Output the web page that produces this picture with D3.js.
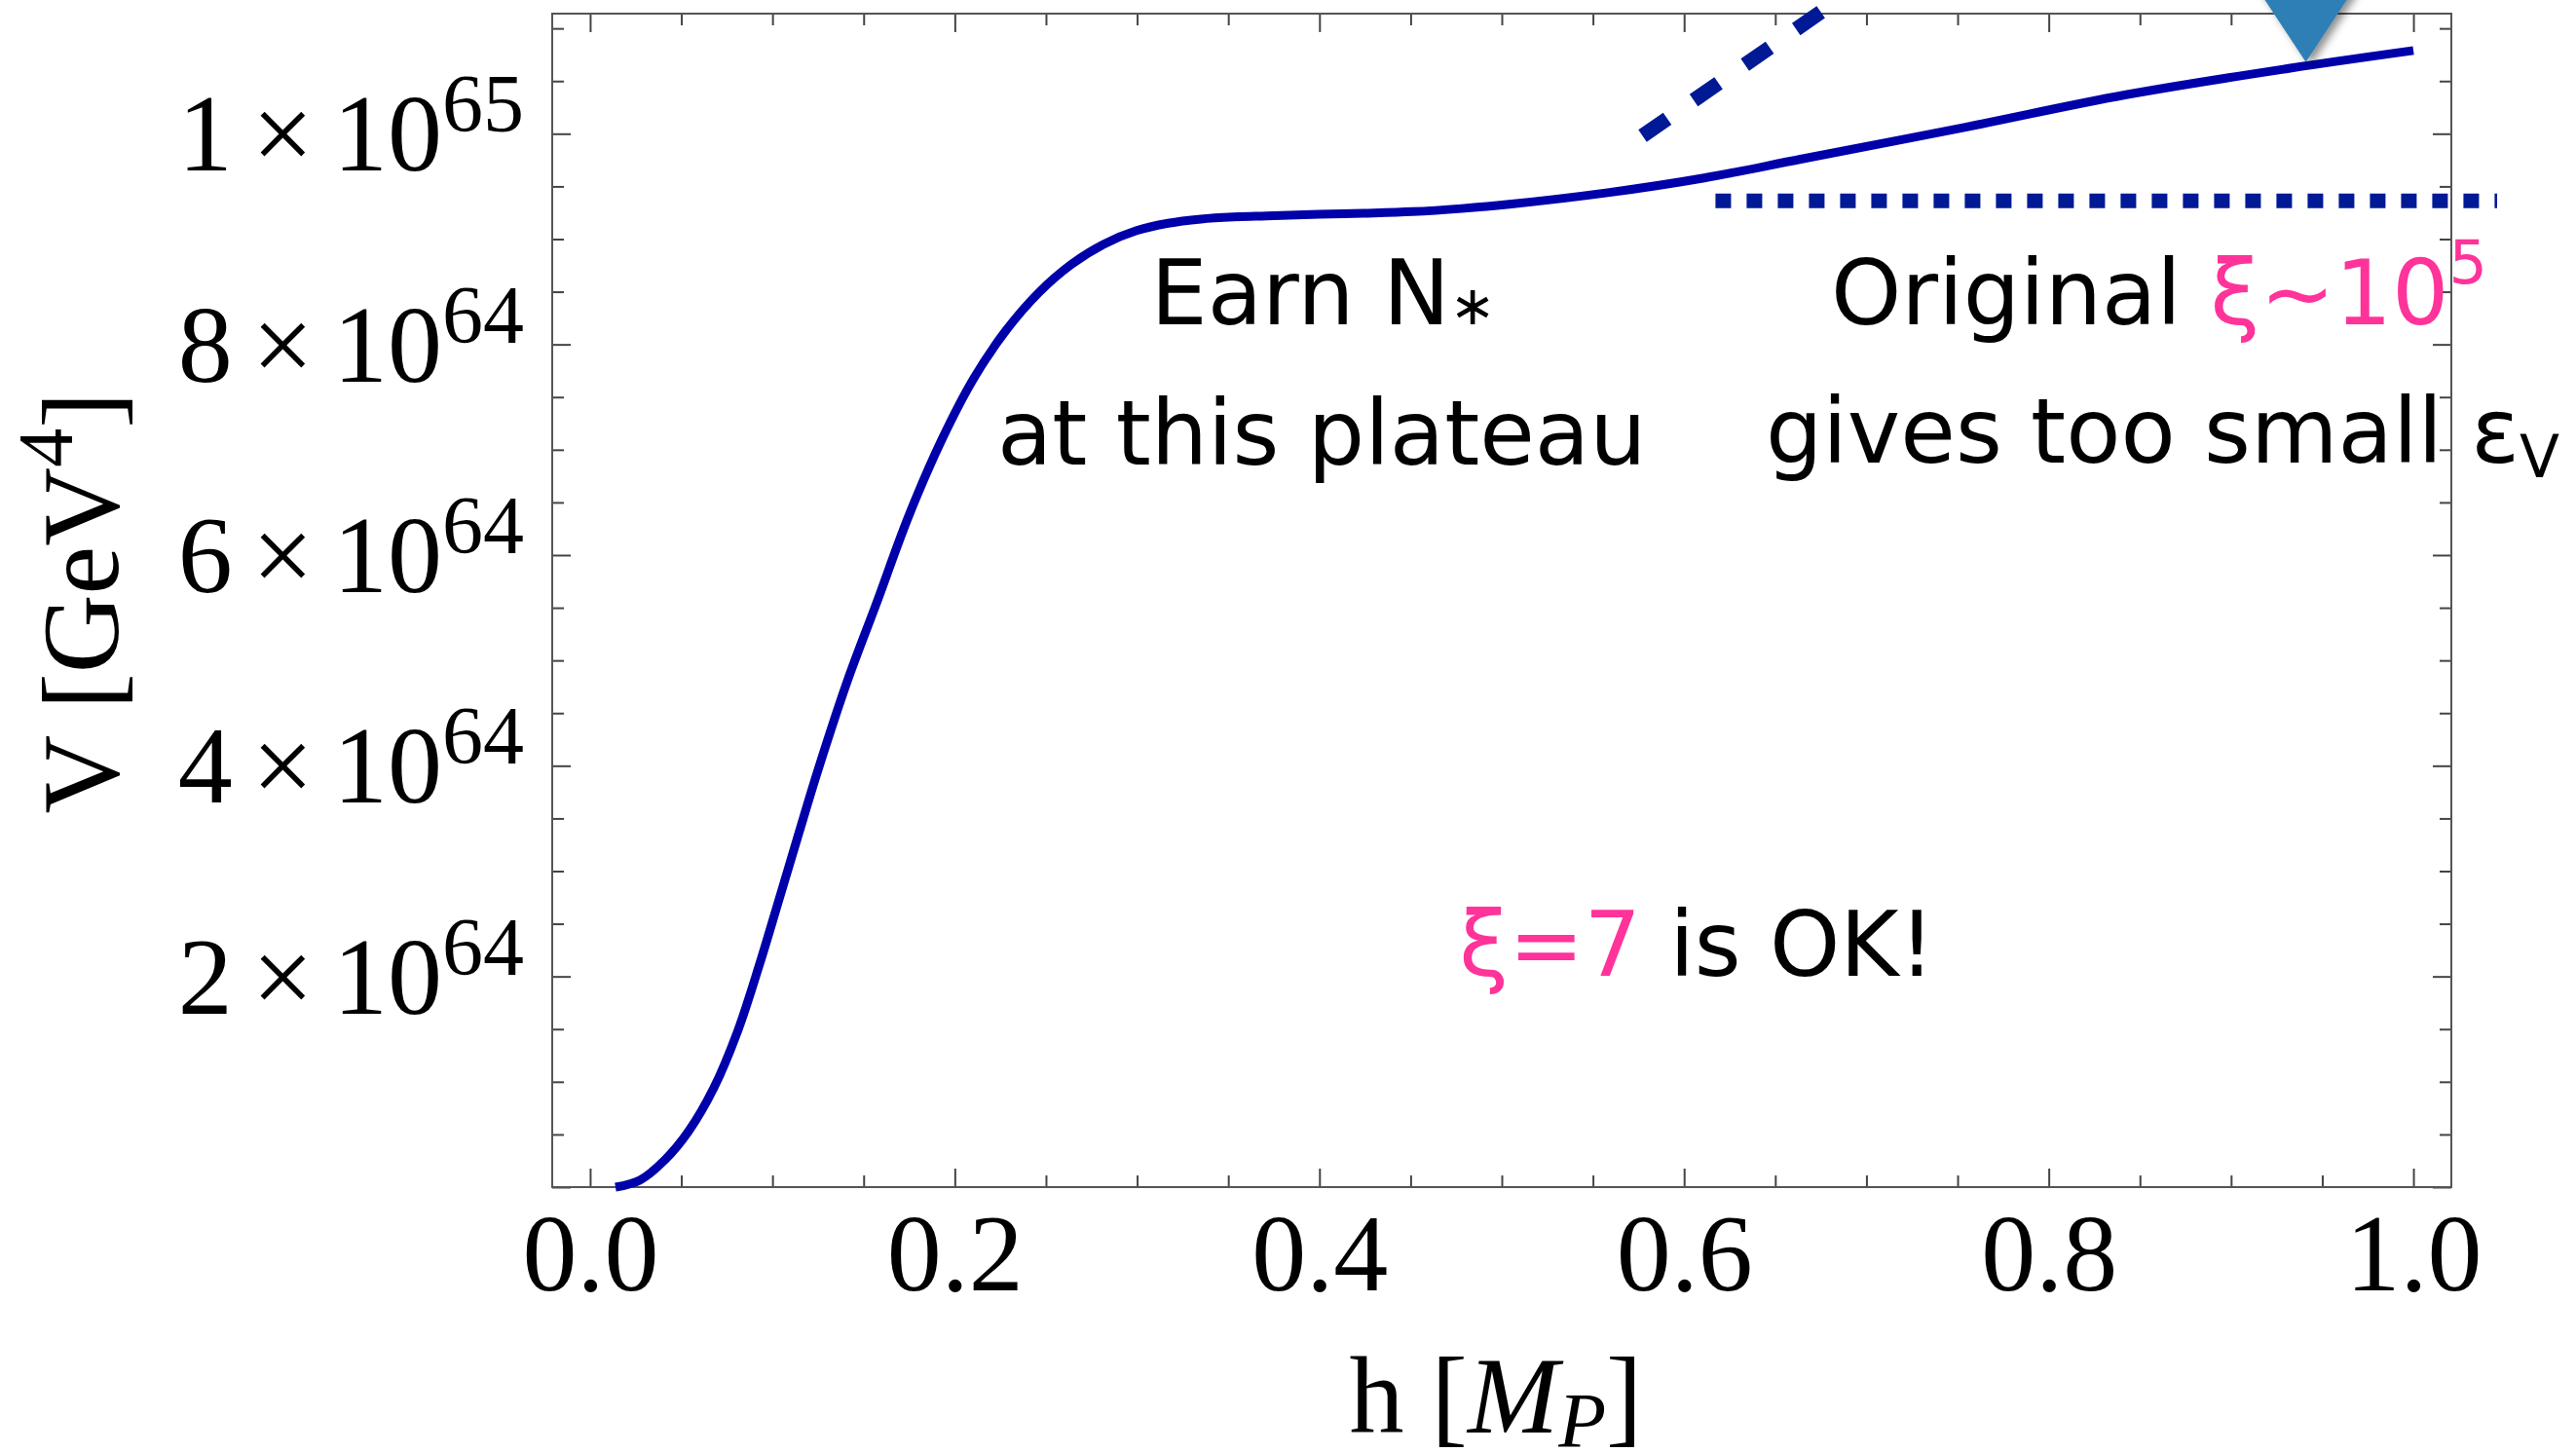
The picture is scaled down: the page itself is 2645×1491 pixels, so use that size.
<!DOCTYPE html>
<html>
<head>
<meta charset="utf-8">
<script src="https://d3js.org/d3.v7.min.js"></script>
<style>
body { margin: 0; background: #fff; }
</style>
</head>
<body>
<script>
// V(h) curve, V in units of 1e64 GeV^4, h in M_P
var hVals = [0.0139, 0.0272, 0.0411, 0.054, 0.0678, 0.0807, 0.093, 0.1036, 0.1143, 0.125, 0.141, 0.157, 0.1747, 0.193, 0.2105, 0.228, 0.246, 0.264, 0.2815, 0.2997, 0.317, 0.335, 0.353, 0.371, 0.40, 0.424, 0.451, 0.478, 0.504, 0.558, 0.611, 0.6645, 0.7537, 0.8424, 0.9316, 1.0]
var vVals = [0, 0.065, 0.26, 0.53, 0.94, 1.47, 2.12, 2.73, 3.35, 3.96, 4.80, 5.54, 6.37, 7.10, 7.68, 8.13, 8.49, 8.76, 8.95, 9.08, 9.15, 9.19, 9.21, 9.22, 9.235, 9.245, 9.26, 9.29, 9.33, 9.44, 9.58, 9.76, 10.06, 10.37, 10.62, 10.79]

// steep dashed segment and the flat dotted level (original xi)
var dashH = [0.5772, 0.675]
var dashV = [9.98, 11.155]
var dotH = [0.6172, 1.0459]
var dotV = [9.362, 9.362]

// triangle marker on the curve
var markerH = 0.941
var markerV = 10.68

// ticks
var xMajor = [0, 0.2, 0.4, 0.6, 0.8, 1.0]
var xLabels = ['0.0', '0.2', '0.4', '0.6', '0.8', '1.0']
var yMajor = [0, 2, 4, 6, 8, 10]
var yLabelVals = [2, 4, 6, 8, 10]
var yMant = ['2', '4', '6', '8', '1']
var yExp = ['64', '64', '64', '64', '65']

var W = 2645, H = 1491
var pLeft = 567, pRight = 2517, pTop = 14, pBottom = 1219

var body = d3.select('body')
var svg = body.append('svg')
	.attr('width', W)
	.attr('height', H)
	.style('display', 'block')

var defs = svg.append('defs')
var shadow = defs.append('filter')
	.attr('id', 'shadow')
	.attr('x', '-50%').attr('y', '-50%')
	.attr('width', '200%').attr('height', '200%')
shadow.append('feDropShadow')
	.attr('dx', 5).attr('dy', 3)
	.attr('stdDeviation', 4)
	.attr('flood-color', '#000')
	.attr('flood-opacity', 0.45)

var x = d3.scaleLinear().domain([-0.0208, 1.0208]).range([pLeft, pRight])
var y = d3.scaleLinear().domain([0, 11.14]).range([pBottom, pTop])

var tickColor = '#444'
var serif = '"Liberation Serif", "Times New Roman", serif'
var sans = '"DejaVu Sans", Verdana, sans-serif'

function styleAxis(g) {
	g.select('.domain').remove()
	g.selectAll('.tick line').attr('stroke', tickColor).attr('stroke-width', 2)
}

var minorX = d3.range(0, 1.0001, 0.05).filter(function(d){ return Math.round(d * 100) % 20 !== 0 })
var minorY = d3.range(0, 11.01, 0.5).filter(function(d){ return d % 2 !== 0 })

//bottom
svg.append('g')
	.attr('transform', 'translate(0,' + pBottom + ')')
	.call(d3.axisBottom(x).tickValues(xMajor).tickSize(-19).tickPadding(26)
		.tickFormat(function(d, i){ return xLabels[i] }))
	.call(styleAxis)
	.selectAll('text')
	.attr('fill', '#000')
	.style('font-family', serif)
	.style('font-size', '112px')
svg.append('g')
	.attr('transform', 'translate(0,' + pBottom + ')')
	.call(d3.axisBottom(x).tickValues(minorX).tickSize(-12).tickFormat(''))
	.call(styleAxis)

//top
svg.append('g')
	.attr('transform', 'translate(0,' + pTop + ')')
	.call(d3.axisTop(x).tickValues(xMajor).tickSize(-19).tickFormat(''))
	.call(styleAxis)
svg.append('g')
	.attr('transform', 'translate(0,' + pTop + ')')
	.call(d3.axisTop(x).tickValues(minorX).tickSize(-12).tickFormat(''))
	.call(styleAxis)

//left
svg.append('g')
	.attr('transform', 'translate(' + pLeft + ',0)')
	.call(d3.axisLeft(y).tickValues(yMajor).tickSize(-19).tickFormat(''))
	.call(styleAxis)
svg.append('g')
	.attr('transform', 'translate(' + pLeft + ',0)')
	.call(d3.axisLeft(y).tickValues(minorY).tickSize(-12).tickFormat(''))
	.call(styleAxis)

//right
svg.append('g')
	.attr('transform', 'translate(' + pRight + ',0)')
	.call(d3.axisRight(y).tickValues(yMajor).tickSize(-19).tickFormat(''))
	.call(styleAxis)
svg.append('g')
	.attr('transform', 'translate(' + pRight + ',0)')
	.call(d3.axisRight(y).tickValues(minorY).tickSize(-12).tickFormat(''))
	.call(styleAxis)

//frame
svg.append('rect')
	.attr('x', pLeft).attr('y', pTop)
	.attr('width', pRight - pLeft).attr('height', pBottom - pTop)
	.attr('fill', 'none')
	.attr('stroke', '#555')
	.attr('stroke-width', 2)

// y tick labels  "m × 10^e"
var ylab = svg.append('g')
	.style('font-family', serif)
	.style('font-size', '112px')
ylab.selectAll('text')
	.data(yLabelVals)
	.enter().append('text')
	.attr('x', 538)
	.attr('y', function(d){ return y(d) + 38 })
	.attr('text-anchor', 'end')
	.each(function(d, i){
		var t = d3.select(this)
		t.append('tspan').text(yMant[i])
		t.append('tspan').attr('dx', 20).text('\u00d7')
		t.append('tspan').attr('dx', 20).text('10')
		t.append('tspan').attr('dy', -40).style('font-size', '84px').text(yExp[i])
	})

// axis titles
var xt = svg.append('text')
	.attr('x', (pLeft + pRight) / 2 - 6)
	.attr('y', 1471)
	.attr('text-anchor', 'middle')
	.style('font-family', serif)
	.style('font-size', '112px')
xt.append('tspan').text('h [')
xt.append('tspan').style('font-style', 'italic').text('M')
xt.append('tspan').style('font-style', 'italic').style('font-size', '80px').attr('dy', 15).text('P')
xt.append('tspan').attr('dy', -15).text(']')

var yt = svg.append('text')
	.attr('transform', 'translate(121,619) rotate(-90)')
	.attr('text-anchor', 'middle')
	.style('font-family', serif)
	.style('font-size', '112px')
yt.append('tspan').text('V [GeV')
yt.append('tspan').attr('dy', -47).style('font-size', '80px').text('4')
yt.append('tspan').attr('dy', 47).text(']')

// curve
var curveData = hVals.map(function(h, i){ return [h, vVals[i]] })
var line = d3.line()
	.x(function(d){ return x(d[0]) })
	.y(function(d){ return y(d[1]) })
	.curve(d3.curveCatmullRom.alpha(0.5))

svg.append('path')
	.datum(curveData)
	.attr('d', line)
	.attr('fill', 'none')
	.attr('stroke', '#0000aa')
	.attr('stroke-width', 9)

var straight = d3.line()
	.x(function(d){ return x(d[0]) })
	.y(function(d){ return y(d[1]) })

svg.append('path')
	.datum(dashH.map(function(h, i){ return [h, dashV[i]] }))
	.attr('d', straight)
	.attr('fill', 'none')
	.attr('stroke', '#001a96')
	.attr('stroke-width', 15)
	.attr('stroke-dasharray', '31,33')

svg.append('path')
	.datum(dotH.map(function(h, i){ return [h, dotV[i]] }))
	.attr('d', straight)
	.attr('fill', 'none')
	.attr('stroke', '#001a96')
	.attr('stroke-width', 15)
	.attr('stroke-dasharray', '16,16')

// marker
svg.append('path')
	.attr('transform', 'translate(' + x(markerH) + ',' + y(markerV) + ')')
	.attr('d', 'M0,0 L-66,-100 L66,-100 Z')
	.attr('fill', '#2f7fb6')
	.attr('filter', 'url(#shadow)')

// annotations
var notes = svg.append('g')
	.style('font-family', sans)
	.style('font-size', '92px')
	.attr('fill', '#000')

var n1 = notes.append('text').attr('x', x(0.3075)).attr('y', y(8.19))
n1.append('tspan').text('Earn N')
n1.append('tspan').style('font-size', '56px').text('\u2217')

notes.append('text').attr('x', x(0.2233)).attr('y', y(6.86)).text('at this plateau')

var n3 = notes.append('text').attr('x', x(0.6805)).attr('y', y(8.19))
n3.append('tspan').text('Original ')
n3.append('tspan').attr('fill', '#ff3399').text('\u03be\u223c10')
n3.append('tspan').attr('fill', '#ff3399').attr('dy', -42).style('font-size', '62px').text('5')

var n4 = notes.append('text').attr('x', x(0.6447)).attr('y', y(6.88))
n4.append('tspan').text('gives too small \u03b5')
n4.append('tspan').attr('dy', 15).style('font-size', '60px').text('V')

var n5 = notes.append('text').attr('x', x(0.4765)).attr('y', y(2.005))
n5.append('tspan').attr('fill', '#ff3399').text('\u03be=7')
n5.append('tspan').text(' is OK!')
</script>
</body>
</html>
